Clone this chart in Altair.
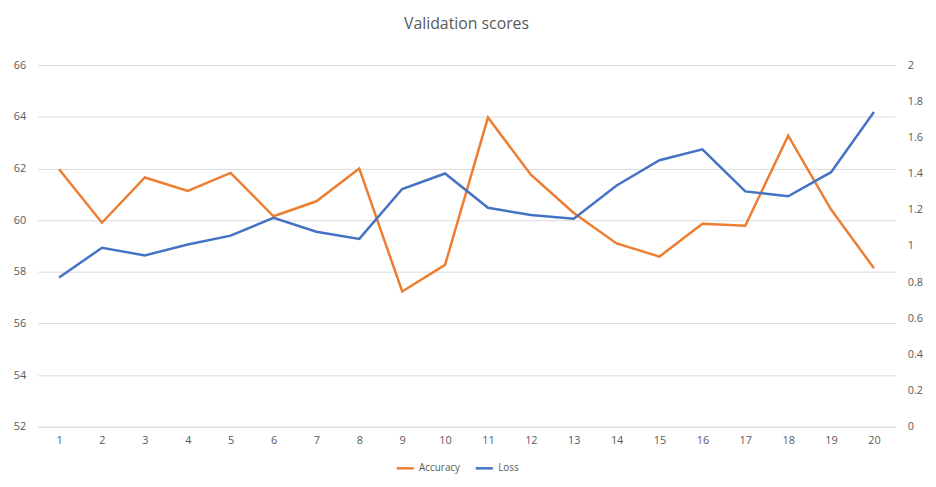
import pandas as pd
import altair as alt

epochs = list(range(1, 21))
accuracy = [61.97, 59.90, 61.65, 61.13, 61.83, 60.15, 60.73, 62.00, 57.24, 58.27,
            63.97, 61.76, 60.28, 59.10, 58.59, 59.86, 59.78, 63.27, 60.41, 58.14]
loss = [0.826, 0.990, 0.948, 1.008, 1.057, 1.156, 1.079, 1.039, 1.315, 1.401,
        1.211, 1.171, 1.151, 1.335, 1.474, 1.534, 1.302, 1.275, 1.408, 1.741]

df = pd.DataFrame({"epoch": epochs, "Accuracy": accuracy, "Loss": loss})
long = df.melt("epoch", var_name="series", value_name="value")

color = alt.Color("series:N", scale=alt.Scale(domain=["Accuracy", "Loss"], range=["#ED7D31", "#4472C4"]),
                  legend=alt.Legend(orient="none", legendX=362, legendY=398, direction="horizontal",
                                    title=None, labelFontSize=10, labelColor="#595959",
                                    symbolType="stroke", symbolStrokeWidth=2.5, symbolSize=300))
x = alt.X("epoch:O", title=None, axis=alt.Axis(labelAngle=0, labelColor="#595959", labelFontSize=11,
                                              domainColor="#d9d9d9", ticks=False, labelPadding=8))

acc = alt.Chart(long).transform_filter("datum.series == 'Accuracy'").mark_line(strokeWidth=2.5).encode(
    x=x,
    y=alt.Y("value:Q", title=None, scale=alt.Scale(domain=[52, 66], nice=False),
            axis=alt.Axis(values=list(range(52, 67, 2)), labelColor="#595959", labelFontSize=11,
                          domain=False, ticks=False, gridColor="#d9d9d9", labelPadding=12)),
    color=color,
)
ls = alt.Chart(long).transform_filter("datum.series == 'Loss'").mark_line(strokeWidth=2.5).encode(
    x=x,
    y=alt.Y("value:Q", title=None, scale=alt.Scale(domain=[0, 2], nice=False),
            axis=alt.Axis(orient="right", values=[i / 5 for i in range(11)], format=".1~f",
                          labelColor="#595959", labelFontSize=11, domain=False, ticks=False,
                          grid=False, labelPadding=12)),
    color=color,
)

chart = alt.layer(acc, ls).resolve_scale(y="independent").properties(
    width=868, height=366,
    title=alt.Title("Validation scores", fontSize=16, fontWeight="normal", color="#595959",
                    font="Open Sans", offset=28),
).configure(font="Open Sans").configure_view(stroke=None)

chart.save("out.html", embed_options={"renderer": "svg", "actions": False})
